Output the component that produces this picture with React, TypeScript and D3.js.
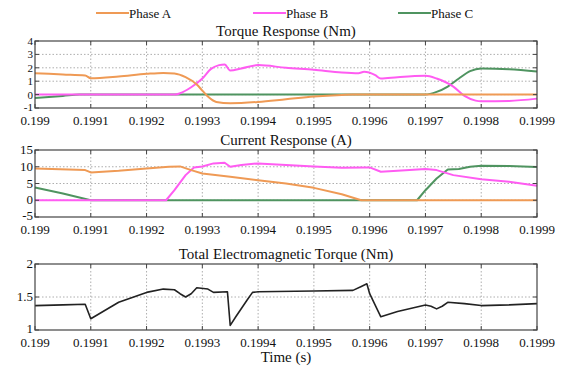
import React from "react";
import * as d3 from "d3";

const timeTicks = [0.199, 0.1991, 0.1992, 0.1993, 0.1994, 0.1995, 0.1996, 0.1997, 0.1998, 0.1999];
const phaseNames = ["Phase A", "Phase B", "Phase C"];
const phaseColors = ["#ef9a55", "#ff5cf2", "#4f9460"];

const torqueA: [number, number][] = [
  [0.199, 1.6], [0.19905, 1.5], [0.19909, 1.42], [0.1991, 1.22], [0.19915, 1.35], [0.1992, 1.55],
  [0.19923, 1.62], [0.19925, 1.58], [0.19927, 1.3], [0.19929, 0.75], [0.1993, 0.3], [0.19931, -0.15],
  [0.199325, -0.55], [0.19935, -0.65], [0.1994, -0.55], [0.19945, -0.35],
  [0.1995, -0.15], [0.19955, -0.03], [0.19957, 0], [0.1999, 0],
];
const torqueB: [number, number][] = [
  [0.199, 0], [0.19925, 0], [0.19926, 0.1], [0.19928, 0.55], [0.1993, 1.2], [0.199315, 1.9],
  [0.19933, 2.2], [0.19934, 2.25], [0.19935, 1.8], [0.19937, 1.95], [0.1994, 2.2], [0.19945, 2.0],
  [0.1995, 1.85], [0.19955, 1.65], [0.19958, 1.6], [0.19959, 1.7], [0.19961, 1.45], [0.19962, 1.2],
  [0.19965, 1.3], [0.1997, 1.4], [0.19972, 1.2], [0.19975, 0.6], [0.19977, -0.1], [0.19979, -0.45],
  [0.1998, -0.5], [0.19985, -0.47], [0.1999, -0.3],
];
const torqueC: [number, number][] = [
  [0.199, -0.25], [0.19905, -0.1], [0.19908, 0], [0.1997, 0], [0.19972, 0.2], [0.19974, 0.6],
  [0.19976, 1.2], [0.19978, 1.75], [0.1998, 1.95], [0.19985, 1.9], [0.1999, 1.72],
];

const currentA: [number, number][] = [
  [0.199, 9.5], [0.19909, 9.0], [0.1991, 8.3], [0.19915, 8.8], [0.1992, 9.5], [0.19924, 10.0],
  [0.19926, 10.1], [0.19928, 9.0], [0.1993, 8.0], [0.19935, 7.0], [0.1994, 6.0], [0.19945, 5.0],
  [0.1995, 3.7], [0.19955, 1.8], [0.199585, 0], [0.1999, 0],
];
const currentB: [number, number][] = [
  [0.199, 0], [0.199235, 0], [0.19925, 3], [0.19927, 7.5], [0.199285, 9.8], [0.1993, 10.1],
  [0.19932, 11.0], [0.19934, 11.2], [0.19935, 10.0], [0.19937, 10.5], [0.1994, 11.0], [0.19945, 10.5],
  [0.1995, 10.1], [0.19955, 9.7], [0.19959, 9.8], [0.1996, 9.8], [0.19962, 8.5], [0.19965, 8.8],
  [0.1997, 9.3], [0.19972, 9.0], [0.19975, 7.5], [0.1998, 6.3], [0.19985, 5.5], [0.1999, 4.3],
];
const currentC: [number, number][] = [
  [0.199, 3.8], [0.19905, 2.0], [0.1991, 0], [0.199685, 0], [0.1997, 3.0], [0.19972, 6.5],
  [0.19974, 9.2], [0.19976, 9.3], [0.19978, 10.0], [0.1998, 10.3], [0.19985, 10.2], [0.1999, 9.9],
];

const totalTorque: [number, number][] = [
  [0.199, 1.37], [0.19905, 1.38], [0.19909, 1.39], [0.1991, 1.17], [0.19915, 1.42], [0.1992, 1.57],
  [0.19923, 1.62], [0.19925, 1.61], [0.19926, 1.55], [0.19927, 1.5], [0.19928, 1.55], [0.19929, 1.64],
  [0.19931, 1.62], [0.19932, 1.57], [0.199345, 1.58], [0.19935, 1.07], [0.19936, 1.2], [0.19938, 1.45],
  [0.19939, 1.57], [0.1994, 1.58], [0.1995, 1.59], [0.19957, 1.6], [0.199585, 1.66], [0.199595, 1.7],
  [0.1996, 1.55], [0.19962, 1.2], [0.19965, 1.28], [0.1997, 1.38], [0.19971, 1.36], [0.19972, 1.32],
  [0.19973, 1.36], [0.19974, 1.42], [0.19977, 1.4], [0.1998, 1.37], [0.19985, 1.38], [0.1999, 1.4],
];

const torqueTicks = [-1, 0, 1, 2, 3, 4];
const currentTicks = [-5, 0, 5, 10, 15];
const totalTicks = [1, 1.5, 2];

const W = 569;
const H = 371;
const L = 35;
const R = 537;
const FONT = "'Liberation Serif', 'Times New Roman', serif";

const x = d3.scaleLinear().domain([0.199, 0.1999]).range([L, R]);

type Panel = {
  title: string;
  top: number;
  bottom: number;
  domain: [number, number];
  ticks: number[];
  series: { data: [number, number][]; color: string; width: number }[];
  curve: d3.CurveFactory;
};

const panels: Panel[] = [
  {
    title: "Torque Response (Nm)",
    top: 41,
    bottom: 108,
    domain: [-1, 4],
    ticks: torqueTicks,
    series: [
      { data: torqueC, color: phaseColors[2], width: 2 },
      { data: torqueB, color: phaseColors[1], width: 2 },
      { data: torqueA, color: phaseColors[0], width: 2 },
    ],
    curve: d3.curveMonotoneX,
  },
  {
    title: "Current Response (A)",
    top: 150,
    bottom: 217,
    domain: [-5, 15],
    ticks: currentTicks,
    series: [
      { data: currentC, color: phaseColors[2], width: 2 },
      { data: currentB, color: phaseColors[1], width: 2 },
      { data: currentA, color: phaseColors[0], width: 2 },
    ],
    curve: d3.curveLinear,
  },
  {
    title: "Total Electromagnetic Torque (Nm)",
    top: 264,
    bottom: 330,
    domain: [1, 2],
    ticks: totalTicks,
    series: [{ data: totalTorque, color: "#222", width: 1.6 }],
    curve: d3.curveLinear,
  },
];

function PanelView({ p }: { p: Panel }) {
  const y = d3.scaleLinear().domain(p.domain).range([p.bottom, p.top]);
  const line = d3
    .line<[number, number]>()
    .x((d) => x(d[0]))
    .y((d) => y(d[1]))
    .curve(p.curve);
  const cx = (L + R) / 2;
  const ySize = p.ticks.length > 5 ? 11 : 13;
  return (
    <g>
      <text x={cx} y={p.top - 5} textAnchor="middle" fontSize={15} fontFamily={FONT} fill="#111">
        {p.title}
      </text>
      {timeTicks.map((t, i) =>
        i > 0 && i < timeTicks.length - 1 ? (
          <line key={"gx" + i} x1={x(t)} x2={x(t)} y1={p.top} y2={p.bottom} stroke="#999" strokeWidth={0.8} strokeDasharray="1.5,2" />
        ) : null
      )}
      {p.ticks.map((v, i) =>
        i > 0 && i < p.ticks.length - 1 ? (
          <line key={"gy" + i} x1={L} x2={R} y1={y(v)} y2={y(v)} stroke="#999" strokeWidth={0.8} strokeDasharray="1.5,2" />
        ) : null
      )}
      {p.series.map((s, i) => (
        <path key={"s" + i} d={line(s.data) || ""} fill="none" stroke={s.color} strokeWidth={s.width} strokeLinejoin="round" />
      ))}
      <rect x={L} y={p.top} width={R - L} height={p.bottom - p.top} fill="none" stroke="#444" strokeWidth={1.2} />
      {timeTicks.map((t, i) => (
        <g key={"tx" + i}>
          <line x1={x(t)} x2={x(t)} y1={p.bottom} y2={p.bottom - 4} stroke="#444" />
          <line x1={x(t)} x2={x(t)} y1={p.top} y2={p.top + 4} stroke="#444" />
          <text x={x(t)} y={p.bottom + 16.5} textAnchor="middle" fontSize={13} fontFamily={FONT} fill="#111">
            {String(t)}
          </text>
        </g>
      ))}
      {p.ticks.map((v, i) => (
        <g key={"ty" + i}>
          <line x1={L} x2={L + 4} y1={y(v)} y2={y(v)} stroke="#444" />
          <line x1={R} x2={R - 4} y1={y(v)} y2={y(v)} stroke="#444" />
          <text x={L - 2} y={y(v) + (i === 0 ? 2.5 : 4)} textAnchor="end" fontSize={ySize} fontFamily={FONT} fill="#111">
            {String(v)}
          </text>
        </g>
      ))}
    </g>
  );
}

export default function App() {
  const legendX = [96, 253, 398];
  return (
    <svg width={W} height={H} style={{ position: "absolute", left: 0, top: 0, background: "#fff" }}>
      {phaseNames.map((n, i) => (
        <g key={n}>
          <line x1={legendX[i]} x2={legendX[i] + 33} y1={13} y2={13} stroke={phaseColors[i]} strokeWidth={2} />
          <text x={legendX[i] + 33} y={17.5} fontSize={13} fontFamily={FONT} fill="#111">
            {n}
          </text>
        </g>
      ))}
      {panels.map((p, i) => (
        <PanelView key={i} p={p} />
      ))}
      <text x={(L + R) / 2} y={362} textAnchor="middle" fontSize={15} fontFamily={FONT} fill="#111">
        Time (s)
      </text>
    </svg>
  );
}
